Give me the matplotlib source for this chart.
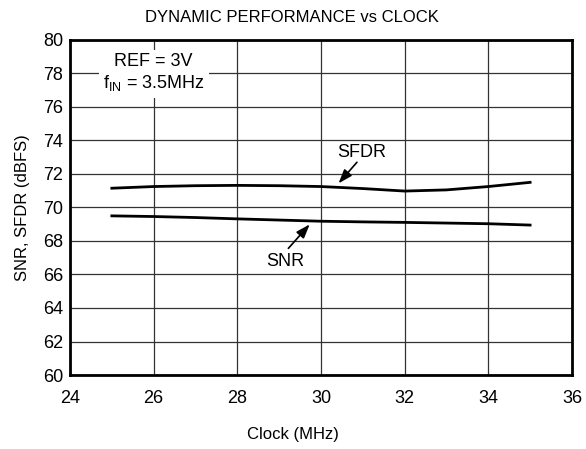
import matplotlib.pyplot as plt

plt.rcParams['font.family'] = ['Liberation Sans', 'DejaVu Sans']

# Curvas
clock = [25, 26, 27, 28, 29, 30, 31, 32, 33, 34, 35]
sfdr = [71.15, 71.25, 71.3, 71.32, 71.3, 71.25, 71.13, 70.98, 71.05, 71.25, 71.5]
snr = [69.5, 69.46, 69.4, 69.32, 69.25, 69.18, 69.14, 69.11, 69.07, 69.03, 68.95]

xticks = [24, 26, 28, 30, 32, 34, 36]
yticks = [60, 62, 64, 66, 68, 70, 72, 74, 76, 78, 80]

fig = plt.figure(figsize=(5.86, 4.49), dpi=100)
ax = fig.add_axes([0.1195, 0.1648, 0.8565, 0.7462])

ax.plot(clock, sfdr, color='black', linewidth=2)
ax.plot(clock, snr, color='black', linewidth=2)

ax.set_xlim(24, 36)
ax.set_ylim(60, 80)
ax.set_xticks(xticks)
ax.set_yticks(yticks)
ax.tick_params(length=0, labelsize=13)
ax.tick_params(axis='x', pad=11)
ax.tick_params(axis='y', pad=5)
ax.grid(True, color='#333333', linewidth=0.9)
for s in ax.spines.values():
    s.set_linewidth(2)

ax.set_ylabel('SNR, SFDR (dBFS)', fontsize=12, labelpad=9)
# título e eixo x centrados na figura, como no original
fig.text(0.5, 1 - 435 / 449, 'Clock (MHz)', ha='center', va='center', fontsize=12)
fig.text(0.498, 0.962, 'DYNAMIC PERFORMANCE vs CLOCK', ha='center', va='center', fontsize=12)

# Caixa de condições
ax.text(26.0, 78.0, 'REF = 3V\n$\\mathregular{f_{IN}}$ = 3.5MHz', ha='center', va='center',
        fontsize=13, linespacing=1.2,
        bbox=dict(facecolor='white', edgecolor='none', pad=3))

# Rótulos e setas
seta = dict(arrowstyle='-|>,head_length=0.7,head_width=0.25', color='black', lw=1.2,
            shrinkA=0, shrinkB=0, mutation_scale=12)
ax.text(30.97, 73.3, 'SFDR', ha='center', va='center', fontsize=13)
ax.annotate('', xy=(30.42, 71.44), xytext=(30.86, 72.7), arrowprops=seta)
ax.text(29.14, 66.76, 'SNR', ha='center', va='center', fontsize=13)
ax.annotate('', xy=(29.73, 68.99), xytext=(29.22, 67.56), arrowprops=seta)

fig.savefig('out.png', dpi=100)
